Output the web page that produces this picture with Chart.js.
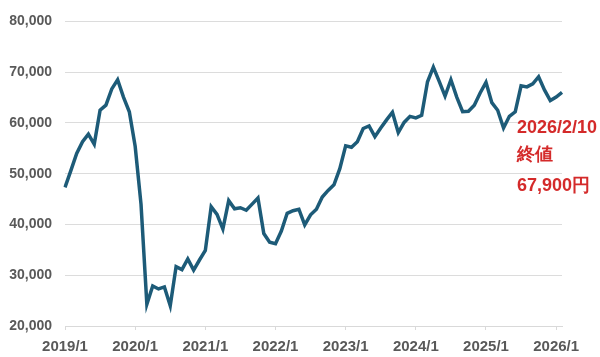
<!DOCTYPE html>
<html>
<head>
<meta charset="utf-8">
<script src="https://cdn.jsdelivr.net/npm/chart.js@4"></script>
<style>
  html, body { margin: 0; padding: 0; background: #fff; }
  #wrap { width: 600px; height: 357px; position: relative; }
</style>
</head>
<body>
<div id="wrap"><canvas id="chart"></canvas></div>
<script>
// Monthly closes, 2019/1 .. 2026/2 (last point = 2026/2/10)
const years = [2019, 2020, 2021, 2022, 2023, 2024, 2025, 2026]
const prices2019 = [47300, 50600, 54000, 56300, 57800, 55800, 62500, 63500, 66700, 68500, 65100, 62200]
const prices2020 = [55400, 44000, 24300, 27900, 27300, 27700, 24000, 31700, 31100, 33200, 31000, 33000]
const prices2021 = [34900, 43500, 42000, 39100, 44700, 43100, 43300, 42800, 44000, 45200, 38200, 36500]
const prices2022 = [36200, 38700, 42200, 42700, 43000, 39900, 41900, 43000, 45400, 46700, 47800, 51000]
const prices2023 = [55500, 55200, 56300, 58900, 59400, 57300, 59000, 60600, 62100, 58100, 60100, 61300]
const prices2024 = [61000, 61500, 68100, 71000, 68200, 65300, 68500, 65100, 62200, 62300, 63500, 65900]
const prices2025 = [68000, 64000, 62500, 59000, 61300, 62200, 67300, 67100, 67700, 69100, 66500, 64400]
const prices2026 = [65100, 66000]

const yTicks = [20000, 30000, 40000, 50000, 60000, 70000, 80000]
const noteLines = ["2026/2/10", "終値", "67,900円"]

const prices = [].concat(prices2019, prices2020, prices2021, prices2022,
                         prices2023, prices2024, prices2025, prices2026)
const labels = prices.map((_, i) => `${years[Math.floor(i / 12)]}/${(i % 12) + 1}`)

// Red closing-price note to the right of the last point
const notePlugin = {
  id: "note",
  afterDraw(chart) {
    const ctx = chart.ctx
    const ys = [128, 155, 186]
    ctx.save()
    ctx.fillStyle = "#d42a2a"
    ctx.font = "bold 18px 'Liberation Sans', Arial, sans-serif"
    ctx.textBaseline = "middle"
    ctx.textAlign = "left"
    noteLines.forEach((t, i) => ctx.fillText(t, 517, ys[i]))
    ctx.restore()
  }
}

const fontFamily = "'Liberation Sans', Arial, sans-serif"

new Chart(document.getElementById("chart"), {
  type: "line",
  data: {
    labels,
    datasets: [{
      data: prices,
      borderColor: "#1d5b78",
      borderWidth: 3.5,
      pointRadius: 0,
      tension: 0,
      fill: false,
    }]
  },
  options: {
    responsive: true,
    maintainAspectRatio: false,
    animation: false,
    layout: { padding: { top: 13, right: 38, bottom: 0, left: 0 } },
    plugins: { legend: { display: false }, tooltip: { enabled: false } },
    scales: {
      x: {
        offset: false,
        grid: { drawOnChartArea: false, color: "#d9d9d9", tickLength: 4 },
        border: { color: "#d9d9d9" },
        afterFit: (s) => { s.height = 31 },
        ticks: {
          autoSkip: false,
          maxRotation: 0,
          padding: 8,
          color: "#595959",
          font: { family: fontFamily, size: 15, weight: "bold" },
          callback: (v, i) => (i % 12 === 0 ? labels[i] : null)
        }
      },
      y: {
        min: 20000,
        max: 80000,
        afterFit: (s) => { s.width = 65 },
        afterBuildTicks: (s) => { s.ticks = yTicks.map((v) => ({ value: v })) },
        grid: { color: "#dcdcdc", drawTicks: false },
        border: { display: false },
        ticks: {
          padding: 13,
          color: "#595959",
          font: { family: fontFamily, size: 14, weight: "bold" },
          callback: (v) => v.toLocaleString("en-US")
        }
      }
    }
  },
  plugins: [notePlugin]
})
</script>
</body>
</html>
